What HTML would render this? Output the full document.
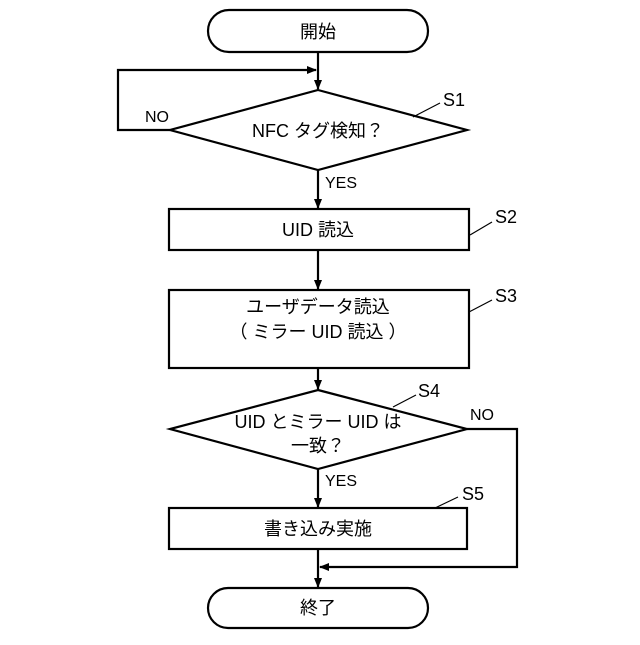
<!DOCTYPE html>
<html><head><meta charset="utf-8"><style>body{margin:0;background:#fff}</style></head><body>
<svg width="640" height="640" viewBox="0 0 640 640" xmlns="http://www.w3.org/2000/svg" font-family="'Liberation Sans','Noto Sans CJK JP',sans-serif" font-size="18" fill="#000">
<defs><marker id="a" markerWidth="10" markerHeight="10" refX="9" refY="5" orient="auto" markerUnits="userSpaceOnUse"><path d="M0,1 L10,5 L0,9 Z" fill="#000"/></marker></defs>
<g stroke="#000" stroke-width="2.2" fill="none">
<rect x="208" y="10" width="220" height="42" rx="21" fill="#fff"/>
<line x1="318" y1="52" x2="318" y2="89" marker-end="url(#a)"/>
<polyline points="170,130 118,130 118,70 316,70" marker-end="url(#a)"/>
<polygon points="318,90 467,130 318,170 170,130" fill="#fff"/>
<line x1="318" y1="170" x2="318" y2="208" marker-end="url(#a)"/>
<rect x="169" y="209" width="300" height="41"/>
<line x1="318" y1="250" x2="318" y2="289" marker-end="url(#a)"/>
<rect x="169" y="290" width="300" height="78"/>
<line x1="318" y1="368" x2="318" y2="389" marker-end="url(#a)"/>
<polygon points="318,390 467,429 318,469 170,429" fill="#fff"/>
<line x1="318" y1="469" x2="318" y2="507" marker-end="url(#a)"/>
<rect x="169" y="508" width="298" height="41"/>
<polyline points="467,429 517,429 517,567 320,567" marker-end="url(#a)"/>
<line x1="318" y1="549" x2="318" y2="587" marker-end="url(#a)"/>
<rect x="208" y="588" width="220" height="40" rx="20" fill="#fff"/>
<g stroke-width="1.2">
<line x1="413" y1="117" x2="440" y2="103"/>
<line x1="470" y1="235" x2="492" y2="222"/>
<line x1="469" y1="312" x2="492" y2="300"/>
<line x1="393" y1="407" x2="416" y2="395"/>
<line x1="435" y1="508" x2="458" y2="497"/>
</g>
</g>
<g text-anchor="middle">
<text x="318" y="38">開始</text>
<text x="318" y="137">NFC タグ検知？</text>
<text x="318" y="236">UID 読込</text>
<text x="318" y="313">ユーザデータ読込</text>
<text x="318" y="338">（ ミラー UID 読込 ）</text>
<text x="318" y="428">UID とミラー UID は</text>
<text x="318" y="452">一致？</text>
<text x="318" y="535">書き込み実施</text>
<text x="318" y="614">終了</text>
</g>
<g font-size="16">
<text x="145" y="122">NO</text>
<text x="325" y="188">YES</text>
<text x="325" y="486">YES</text>
<text x="470" y="420">NO</text>
</g>
<g font-size="18">
<text x="443" y="106">S1</text>
<text x="495" y="223">S2</text>
<text x="495" y="302">S3</text>
<text x="418" y="397">S4</text>
<text x="462" y="500">S5</text>
</g>
</svg>
</body></html>
